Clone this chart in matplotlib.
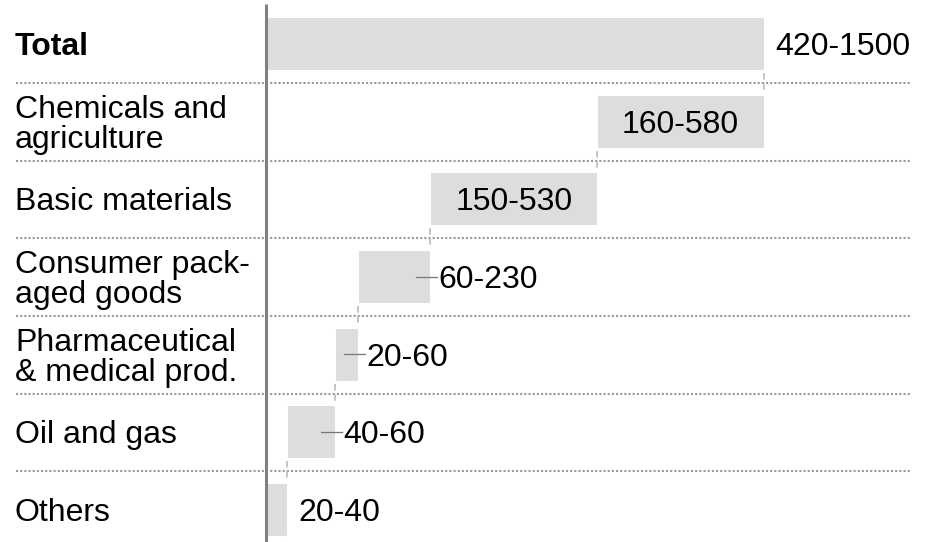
import matplotlib.pyplot as plt

plt.rcParams["font.family"] = ["Liberation Sans", "DejaVu Sans"]

# rows top to bottom
categories = ["Total", "Chemicals and\nagriculture", "Basic materials",
              "Consumer pack-\naged goods", "Pharmaceutical\n& medical prod.",
              "Oil and gas", "Others"]
ranges = ["420-1500", "160-580", "150-530", "60-230", "20-60", "40-60", "20-40"]
# segment sizes (Total = sum of the rest)
parts = [321, 321, 139, 44, 92, 42]
label_mode = ["out", "in", "in", "lead", "lead", "lead", "out"]

total = sum(parts)
widths = [total] + parts
lefts = [0] + [sum(parts[i + 1:]) for i in range(len(parts))]

# pixel layout helpers
X0_PX = 265.5
SCALE = (764 - X0_PX) / total  # px per unit
Y0_PX, DY_PX = 43.5, 77.67


def px(p):
    return p / SCALE


fig = plt.figure(figsize=(9.3, 5.42), dpi=100)
ax = fig.add_axes([0, 0, 1, 1])
ax.set_xlim(-X0_PX / SCALE, (930 - X0_PX) / SCALE)
ax.set_ylim((542 - Y0_PX) / DY_PX, -Y0_PX / DY_PX)
ax.axis("off")

rows = list(range(len(categories)))
h = 0.68
ax.barh(rows, widths, left=lefts, height=h, color="#dddddd",
        edgecolor="white", linewidth=0.8, zorder=2)

# row separators
ax.hlines([r + 0.51 for r in rows[:-1]], px(16 - X0_PX), px(911 - X0_PX),
          colors="#999999", linestyles=(0, (1, 1)), linewidth=1.5, zorder=1)

# connectors between bars
gap = 3 / DY_PX
for r in rows[:-1]:
    x = lefts[r] + widths[r] if r == 0 else lefts[r]
    ax.vlines(x, r + h / 2 + gap, r + 1 - h / 2 - gap, colors="#bbbbbb",
              linestyles=(0, (4, 2)), linewidth=1.2, zorder=1)

# axis line
ax.vlines(0, (542 - Y0_PX) / DY_PX, -0.51, colors="#808080", linewidth=2.2, zorder=3)

fs = 23
for r, (cat, rng, mode) in enumerate(zip(categories, ranges, label_mode)):
    ax.text(px(15 - X0_PX), r, cat, ha="left", va="center_baseline", fontsize=fs,
            fontweight="bold" if r == 0 else "normal", linespacing=1.0)
    right = lefts[r] + widths[r]
    if mode == "in":
        ax.text(lefts[r] + widths[r] / 2, r, rng, ha="center", va="center_baseline", fontsize=fs)
    elif mode == "lead":
        ax.plot([right - px(14), right + px(7)], [r, r], color="#777777", lw=0.9, zorder=3)
        ax.text(right + px(8), r, rng, ha="left", va="center_baseline", fontsize=fs)
    else:
        ax.text(right + px(11), r, rng, ha="left", va="center_baseline", fontsize=fs)

fig.savefig("out.png", dpi=100)
